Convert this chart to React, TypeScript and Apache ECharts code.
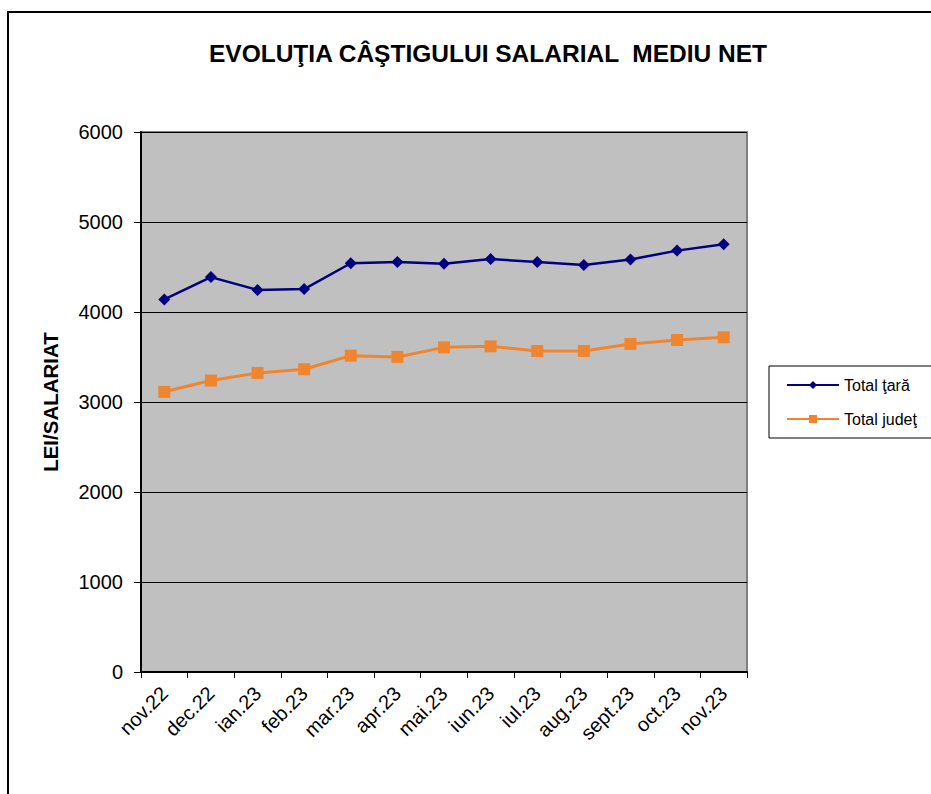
import React, { useEffect, useRef } from "react";
import * as echarts from "echarts";

const categories = ["nov.22", "dec.22", "ian.23", "feb.23", "mar.23", "apr.23", "mai.23", "iun.23", "iul.23", "aug.23", "sept.23", "oct.23", "nov.23"];
const totalTara = [4140, 4388, 4245, 4255, 4542, 4556, 4535, 4588, 4555, 4522, 4584, 4682, 4752];
const totalJudet = [3113, 3238, 3323, 3364, 3515, 3501, 3607, 3619, 3567, 3567, 3645, 3689, 3719];
const yTicks = { min: 0, max: 6000, interval: 1000 };
const titleText = "EVOLUŢIA CÂŞTIGULUI SALARIAL  MEDIU NET";
const yName = "LEI/SALARIAT";
const seriesNames = ["Total ţară", "Total judeţ"];

const FONT = "'Liberation Sans', Arial, sans-serif";

export default function App() {
  const ref = useRef<HTMLDivElement>(null);
  useEffect(() => {
    document.body.style.margin = "0";
    const chart = echarts.init(ref.current!, null, { renderer: "svg" });
    chart.setOption({
      animation: false,
      backgroundColor: "#ffffff",
      textStyle: { fontFamily: FONT },
      graphic: [
        {
          type: "rect",
          shape: { x: 8, y: 12, width: 1000, height: 1000 },
          style: { fill: "none", stroke: "#000", lineWidth: 2 },
          silent: true,
        },
        {
          type: "rect",
          shape: { x: 769, y: 366, width: 200, height: 72 },
          style: { fill: "#fff", stroke: "#000", lineWidth: 1 },
          silent: true,
        },
        {
          type: "text",
          x: 488,
          y: 53,
          style: {
            text: titleText,
            fill: "#000",
            font: `bold 24.5px ${FONT}`,
            textAlign: "center",
            textVerticalAlign: "middle",
          },
        },
      ],
      legend: {
        orient: "vertical",
        left: 781,
        top: 372,
        itemWidth: 52,
        itemHeight: 10,
        itemGap: 18,
        textStyle: { fontSize: 16, color: "#000", fontFamily: FONT },
        data: seriesNames,
      },
      grid: {
        left: 141,
        top: 132,
        right: 184,
        bottom: 122,
        show: true,
        backgroundColor: "#C0C0C0",
        borderColor: "#808080",
        borderWidth: 2,
        outerBoundsMode: "none",
      },
      xAxis: {
        type: "category",
        data: categories,
        boundaryGap: true,
        axisLine: { show: true, lineStyle: { color: "#000", width: 2 } },
        axisTick: { show: true, length: 6, lineStyle: { color: "#000" } },
        axisLabel: { rotate: 45, fontSize: 20, color: "#000", margin: 18, interval: 0, fontFamily: FONT },
      },
      yAxis: {
        type: "value",
        min: yTicks.min,
        max: yTicks.max,
        interval: yTicks.interval,
        name: yName,
        nameLocation: "middle",
        nameRotate: 90,
        nameGap: 80,
        nameTextStyle: { fontSize: 20.5, fontWeight: "bold", color: "#000", fontFamily: FONT },
        axisLine: { show: true, lineStyle: { color: "#000", width: 2 } },
        axisTick: { show: true, length: 7, lineStyle: { color: "#000" } },
        axisLabel: {
          fontSize: 20,
          color: "#000",
          margin: 18,
          fontFamily: FONT,
          formatter: (v: number) => String(v),
        },
        splitLine: { show: true, lineStyle: { color: "#000", width: 1 } },
      },
      series: [
        {
          name: seriesNames[0],
          type: "line",
          data: totalTara,
          symbol: "diamond",
          symbolSize: 12,
          lineStyle: { color: "#000080", width: 2.5 },
          itemStyle: { color: "#000080" },
        },
        {
          name: seriesNames[1],
          type: "line",
          data: totalJudet,
          symbol: "rect",
          symbolSize: 12,
          lineStyle: { color: "#F0852F", width: 3 },
          itemStyle: { color: "#F0852F" },
        },
      ],
    });
    return () => chart.dispose();
  }, []);
  return <div ref={ref} style={{ position: "fixed", left: 0, top: 0, width: 931, height: 794 }} />;
}
